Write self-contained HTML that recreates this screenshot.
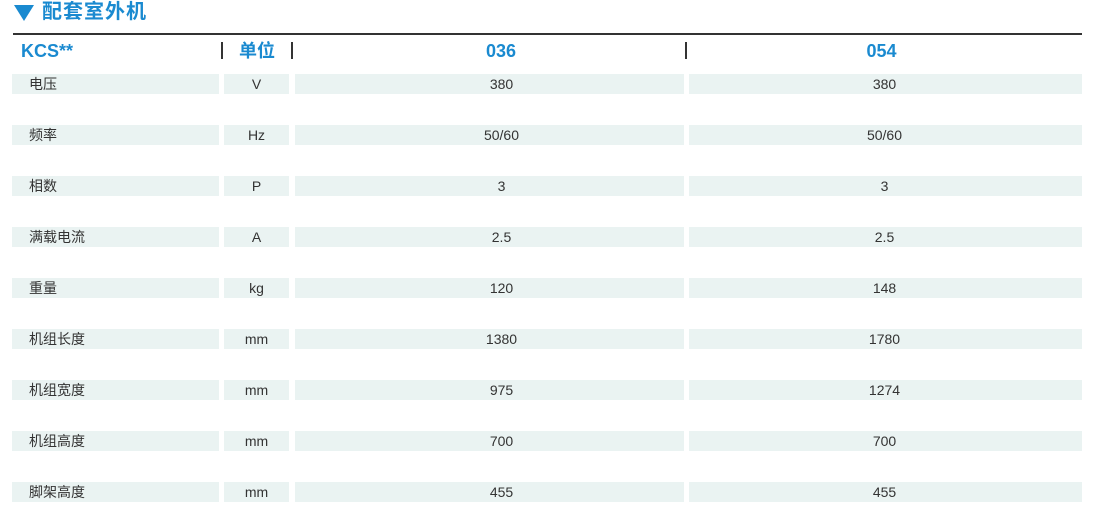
<!DOCTYPE html>
<html><head><meta charset="utf-8"><style>
body{margin:0;width:1095px;height:507px;background:#fff;position:relative;overflow:hidden;font-family:"Liberation Sans","Noto Sans CJK SC",sans-serif;}
.a{position:absolute}
.t{left:42px;top:0px;font-size:20px;font-weight:bold;color:#1a8ad0;line-height:24px;letter-spacing:1px}
.tri{left:14px;top:5px;width:0;height:0;border-left:10px solid transparent;border-right:10px solid transparent;border-top:16px solid #1a8ad0}
.line{left:13px;top:33px;width:1069px;height:2px;background:#333}
.h{top:38px;height:26px;line-height:26px;font-size:18px;font-weight:bold;color:#1a8ad0;text-align:center}
.sep{top:42px;width:2px;height:17px;background:#333}
.bar{height:20px;line-height:20px;background:#eaf3f2;font-size:14px;color:#333;text-align:center;box-sizing:border-box}
</style></head><body>
<div class="a tri"></div>
<div class="a t">配套室外机</div>
<div class="a line"></div>
<div class="a h" style="left:21px;text-align:left">KCS**</div>
<div class="a sep" style="left:221px"></div>
<div class="a h" style="left:226px;width:62px">单位</div>
<div class="a sep" style="left:291px"></div>
<div class="a h" style="left:306px;width:390px">036</div>
<div class="a sep" style="left:685px"></div>
<div class="a h" style="left:685px;width:393px">054</div>
<div id="rows"></div>
<script>
var d=[["电压","V","380","380"],["频率","Hz","50/60","50/60"],["相数","P","3","3"],["满载电流","A","2.5","2.5"],["重量","kg","120","148"],["机组长度","mm","1380","1780"],["机组宽度","mm","975","1274"],["机组高度","mm","700","700"],["脚架高度","mm","455","455"]];
var c=[[12,207,0],[224,65,0],[295,389,24],[689,393,-2]],h="";
d.forEach(function(r,i){var y=74+i*51;r.forEach(function(v,j){h+='<div class="a bar" style="top:'+y+'px;left:'+c[j][0]+'px;width:'+c[j][1]+'px;'+(j==0?'text-align:left;padding-left:17px':(c[j][2]>0?'padding-left:'+c[j][2]+'px':'padding-right:'+(-c[j][2])+'px'))+'">'+v+'</div>';});});
document.getElementById("rows").innerHTML=h;
</script>
</body></html>
